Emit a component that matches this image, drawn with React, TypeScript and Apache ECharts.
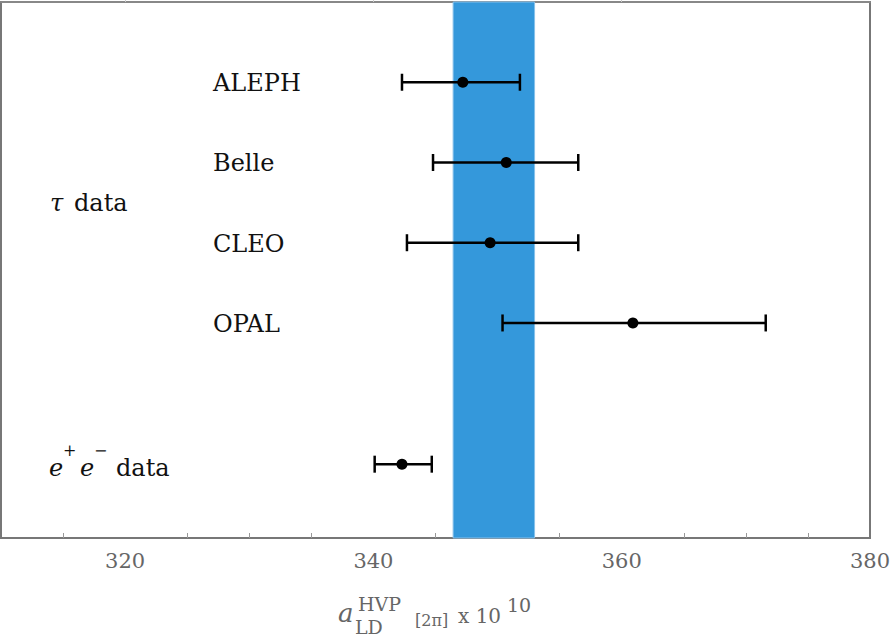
import React, { useEffect, useRef } from "react";
import * as echarts from "echarts";

const experiments = ["ALEPH", "Belle", "CLEO", "OPAL", ""];
const centers = [347.2, 350.7, 349.4, 360.9, 342.3];
const lows = [342.3, 344.8, 342.7, 350.4, 340.1];
const highs = [351.8, 356.5, 356.5, 371.6, 344.7];
const rows = [1, 2, 3, 4, 5.76];
const bandRange = [346.42, 352.98];
const labelTicks = [320, 340, 360, 380];
const majorTicks = [320, 340, 360];
const minorTicks = [315, 325, 330, 335, 345, 350, 355, 365, 370, 375];

const SERIF = "DejaVu Serif";

export default function App() {
  const ref = useRef<HTMLDivElement>(null);
  useEffect(() => {
    if (!ref.current) return;
    const chart = echarts.init(ref.current, undefined, { renderer: "svg" });
    const data = experiments.map((n, i) => [i, centers[i], lows[i], highs[i], rows[i]]);
    const gray = "#666";
    const option: any = {
      animation: false,
      backgroundColor: "#fff",
      grid: {
        left: 1,
        right: 24,
        top: 2,
        bottom: 100,
        show: true,
        borderColor: "#777",
        borderWidth: 2,
        backgroundColor: "transparent",
      },
      xAxis: [
        {
          type: "value",
          min: 310,
          max: 380,
          position: "bottom",
          splitLine: { show: false },
          axisLine: { show: true, lineStyle: { color: "#888", width: 2 } },
          axisTick: {
            show: true,
            inside: true,
            length: 8,
            customValues: majorTicks,
            lineStyle: { color: "#ccc", width: 1 },
          },
          axisLabel: {
            customValues: labelTicks,
            color: gray,
            fontFamily: SERIF,
            fontSize: 21,
            margin: 12,
          },
        },
        {
          type: "value",
          min: 310,
          max: 380,
          position: "bottom",
          splitLine: { show: false },
          axisLine: { show: false },
          axisTick: {
            show: true,
            inside: true,
            length: 5,
            customValues: minorTicks,
            lineStyle: { color: "#999", width: 1 },
          },
          axisLabel: { show: false },
        },
      ],
      yAxis: {
        type: "value",
        min: 0,
        max: 6.68,
        inverse: true,
        show: false,
        splitLine: { show: false },
      },
      series: [
        {
          type: "custom",
          xAxisIndex: 0,
          data,
          markArea: {
            silent: true,
            itemStyle: { color: "#3498db", borderColor: "#86c0ea", borderWidth: 1 },
            data: [[{ xAxis: bandRange[0] }, { xAxis: bandRange[1] }]],
          },
          renderItem: (params: any, api: any) => {
            const idx = api.value(0);
            const c = api.coord([api.value(1), api.value(4)]);
            const lo = api.coord([api.value(2), api.value(4)]);
            const hi = api.coord([api.value(3), api.value(4)]);
            const cap = 8.5;
            const ls = { stroke: "#000", lineWidth: 2.5 };
            const children: any[] = [
              { type: "line", shape: { x1: lo[0], y1: lo[1], x2: hi[0], y2: hi[1] }, style: ls },
              { type: "line", shape: { x1: lo[0], y1: lo[1] - cap, x2: lo[0], y2: lo[1] + cap }, style: ls },
              { type: "line", shape: { x1: hi[0], y1: hi[1] - cap, x2: hi[0], y2: hi[1] + cap }, style: ls },
              { type: "circle", shape: { cx: c[0], cy: c[1], r: 5.5 }, style: { fill: "#000" } },
            ];
            const name = experiments[idx];
            if (name) {
              children.push({
                type: "text",
                x: params.coordSys.x + 212,
                y: c[1] + 1,
                style: {
                  text: name,
                  fontFamily: SERIF,
                  fontSize: 24,
                  fill: "#111",
                  verticalAlign: "middle",
                  align: "left",
                },
              });
            }
            return { type: "group", children };
          },
        },
      ],
      graphic: [
        { type: "text", x: 50, y: 203, style: { text: "τ", fontFamily: SERIF, fontStyle: "italic", fontSize: 24, fill: "#111", verticalAlign: "middle" } },
        { type: "text", x: 74, y: 203, style: { text: "data", fontFamily: SERIF, fontSize: 24, fill: "#111", verticalAlign: "middle" } },
        { type: "text", x: 49, y: 468, style: { text: "e", fontFamily: SERIF, fontStyle: "italic", fontSize: 24, fill: "#111", verticalAlign: "middle" } },
        { type: "text", x: 63, y: 450, style: { text: "+", fontFamily: SERIF, fontSize: 16, fill: "#111", verticalAlign: "middle" } },
        { type: "text", x: 80, y: 468, style: { text: "e", fontFamily: SERIF, fontStyle: "italic", fontSize: 24, fill: "#111", verticalAlign: "middle" } },
        { type: "text", x: 94, y: 450, style: { text: "−", fontFamily: SERIF, fontSize: 16, fill: "#111", verticalAlign: "middle" } },
        { type: "text", x: 116, y: 468, style: { text: "data", fontFamily: SERIF, fontSize: 24, fill: "#111", verticalAlign: "middle" } },
        { type: "text", x: 338, y: 613, style: { text: "a", fontFamily: SERIF, fontStyle: "italic", fontSize: 26, fill: gray, verticalAlign: "middle" } },
        { type: "text", x: 358, y: 604, style: { text: "HVP", fontFamily: SERIF, fontSize: 19, fill: gray, verticalAlign: "middle" } },
        { type: "text", x: 355, y: 627, style: { text: "LD", fontFamily: SERIF, fontSize: 19, fill: gray, verticalAlign: "middle" } },
        { type: "text", x: 415, y: 620, style: { text: "[2π]", fontFamily: SERIF, fontSize: 16, fill: gray, verticalAlign: "middle" } },
        { type: "text", x: 458, y: 616, style: { text: "x 10", fontFamily: SERIF, fontSize: 20, fill: gray, verticalAlign: "middle" } },
        { type: "text", x: 507, y: 605, style: { text: "10", fontFamily: SERIF, fontSize: 19, fill: gray, verticalAlign: "middle" } },
      ],
    };
    chart.setOption(option);
    return () => chart.dispose();
  }, []);
  return (
    <div
      ref={ref}
      style={{ position: "absolute", left: 0, top: 0, width: 894, height: 638 }}
    />
  );
}
